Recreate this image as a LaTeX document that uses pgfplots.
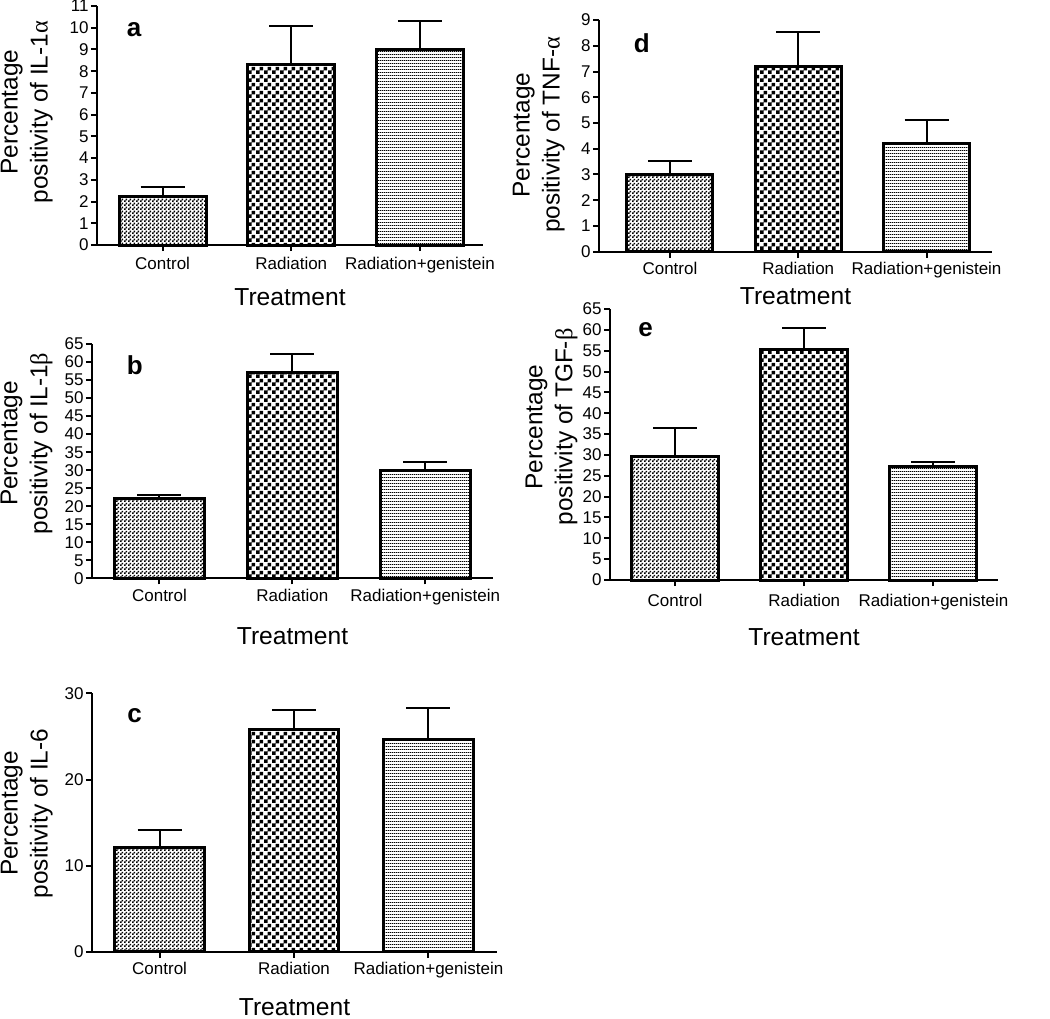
\documentclass[border=0pt]{standalone}
\usepackage{pgfplots}
\pgfplotsset{compat=1.18}
\usepackage{fontspec}
\setmainfont{Liberation Sans}
\newfontfamily\greek{Liberation Serif}
\usetikzlibrary{patterns}

% bar fills
\pgfdeclarepatternformonly{finechecker}{\pgfpointorigin}{\pgfqpoint{2pt}{2pt}}{\pgfqpoint{2pt}{2pt}}{%
  \pgfpathrectangle{\pgfpointorigin}{\pgfqpoint{1pt}{1pt}}%
  \pgfpathrectangle{\pgfqpoint{1pt}{1pt}}{\pgfqpoint{1pt}{1pt}}%
  \pgfusepath{fill}}
\pgfdeclarepatternformonly{coarsechecker}{\pgfpointorigin}{\pgfqpoint{4pt}{4pt}}{\pgfqpoint{4pt}{4pt}}{%
  \pgfpathrectangle{\pgfpointorigin}{\pgfqpoint{2pt}{2pt}}%
  \pgfpathrectangle{\pgfqpoint{2pt}{2pt}}{\pgfqpoint{2pt}{2pt}}%
  \pgfusepath{fill}}
\pgfdeclarepatternformonly{hstripes}{\pgfpointorigin}{\pgfqpoint{1pt}{1.7pt}}{\pgfqpoint{1pt}{1.7pt}}{%
  \pgfpathrectangle{\pgfpointorigin}{\pgfqpoint{1pt}{0.45pt}}%
  \pgfusepath{fill}}

\tikzset{letter/.style={font=\fontsize{13}{15}\selectfont\bfseries}}

\pgfplotsset{
  panel/.style={
    scale only axis,
    axis lines=left,
    axis line style={-, line width=1pt},
    ymin=0,
    xtick={0,1,2},
    xticklabels={Control,Radiation,Radiation+genistein},
    tick align=outside,
    major tick length=3pt,
    tick style={line width=1pt, black},
    /pgf/number format/assume math mode=true,
    tick label style={font=\fontsize{8.5}{9}\selectfont},
    yticklabel style={inner xsep=1pt},
    xticklabel style={anchor=base, yshift=-9pt},
    xlabel={Treatment},
    xlabel style={font=\fontsize{12.3}{14}\selectfont, anchor=base, at={(axis description cs:0.5,0)}},
    ylabel style={font=\fontsize{12.2}{15}\selectfont, align=center, inner sep=0pt, anchor=south},
    clip=false,
  },
  errs/.style={
    error bars/.cd, y dir=plus, y explicit,
    error bar style={line width=1pt, black},
    error mark options={rotate=90, mark size=11pt, line width=1pt, black},
  },
  ctrl/.style={ybar, bar shift=0pt, draw=black, line width=1.5pt, pattern=finechecker, errs},
  rad/.style={ybar, bar shift=0pt, draw=black, line width=1.5pt, pattern=coarsechecker, errs},
  radg/.style={ybar, bar shift=0pt, draw=black, line width=1.5pt, pattern=hstripes, errs},
}

\begin{document}
\begin{tikzpicture}
\useasboundingbox (0,0) rectangle (525pt,-509pt);

% a: IL-1 alpha
\begin{axis}[panel, at={(48.5pt,-122.5pt)}, anchor=south west,
  width=193pt, height=119.5pt,
  xmin=-0.51, xmax=2.49, ymax=11, ytick={0,1,...,11},
  bar width=0.677,
  ylabel={Percentage\\positivity of IL-1{\greek α}},
  ylabel style={at={(axis description cs:-0.114,0.556)}},
  xlabel style={yshift=-30pt},
]
\addplot[ctrl] coordinates {(0,2.23) += (0,0.42)};
\addplot[rad]  coordinates {(1,8.29) += (0,1.78)};
\addplot[radg] coordinates {(2,8.98) += (0,1.31)};
\node[letter] at (axis description cs:0.096,0.902) {a};
\end{axis}

% d: TNF-alpha
\begin{axis}[panel, at={(299.5pt,-125.85pt)}, anchor=south west,
  width=196.5pt, height=115.85pt,
  xmin=-0.553, xmax=2.51, ymax=9, ytick={0,1,...,9},
  bar width=0.67,
  ylabel={Percentage\\positivity of TNF-{\greek α}},
  ylabel style={at={(axis description cs:-0.0865,0.504)}},
  xlabel style={yshift=-26.5pt},
  xticklabel style={yshift=0.5pt},
]
\addplot[ctrl] coordinates {(0,2.98) += (0,0.56)};
\addplot[rad]  coordinates {(1,7.19) += (0,1.36)};
\addplot[radg] coordinates {(2,4.21) += (0,0.91)};
\node[letter] at (axis description cs:0.109,0.899) {d};
\end{axis}

% b: IL-1 beta
\begin{axis}[panel, at={(46pt,-289.15pt)}, anchor=south west,
  width=200.5pt, height=117.15pt,
  xmin=-0.508, xmax=2.51, ymax=65, ytick={0,5,...,65},
  bar width=0.674,
  ylabel={Percentage\\positivity of IL-1{\greek β}},
  ylabel style={at={(axis description cs:-0.0973,0.575)}},
  xlabel style={yshift=-33pt},
  xticklabel style={yshift=0.5pt},
]
\addplot[ctrl] coordinates {(0,22.2) += (0,1.0)};
\addplot[rad]  coordinates {(1,57.1) += (0,5.1)};
\addplot[radg] coordinates {(2,29.8) += (0,2.4)};
\node[letter] at (axis description cs:0.107,0.910) {b};
\end{axis}

% e: TGF-beta
\begin{axis}[panel, at={(305pt,-290pt)}, anchor=south west,
  width=194pt, height=135.5pt,
  xmin=-0.504, xmax=2.50, ymax=65, ytick={0,5,...,65},
  bar width=0.674,
  ylabel={Percentage\\positivity of TGF-{\greek β}},
  ylabel style={at={(axis description cs:-0.0825,0.565)}},
  xlabel style={yshift=-32.5pt},
  xticklabel style={yshift=-1pt},
]
\addplot[ctrl] coordinates {(0,29.6) += (0,6.8)};
\addplot[rad]  coordinates {(1,55.4) += (0,5.0)};
\addplot[radg] coordinates {(2,27.2) += (0,1.2)};
\node[letter] at (axis description cs:0.0915,0.924) {e};
\end{axis}

% c: IL-6
\begin{axis}[panel, at={(46pt,-475.85pt)}, anchor=south west,
  width=202.5pt, height=129.15pt,
  xmin=-0.503, xmax=2.51, ymax=30, ytick={0,10,20,30},
  bar width=0.667,
  ylabel={Percentage\\positivity of IL-6},
  ylabel style={at={(axis description cs:-0.0963,0.535)}},
  xlabel style={yshift=-32pt},
  xticklabel style={yshift=0.5pt},
]
\addplot[ctrl] coordinates {(0,12.1) += (0,2.0)};
\addplot[rad]  coordinates {(1,25.8) += (0,2.3)};
\addplot[radg] coordinates {(2,24.7) += (0,3.6)};
\node[letter] at (axis description cs:0.105,0.914) {c};
\end{axis}
\end{tikzpicture}
\end{document}
